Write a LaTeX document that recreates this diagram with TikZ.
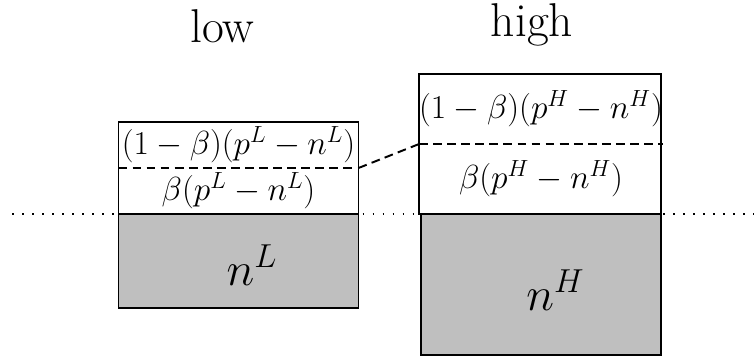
\RequirePackage{fix-cm}
\documentclass[tikz,border=0pt]{standalone}
\usepackage{amsmath,amssymb}
\usetikzlibrary{positioning}
\tikzset{
    share/.style={minimum width=4.8cm,inner sep=0pt,outer sep=0pt,font=\fontsize{19}{23}\selectfont},
    base/.style={draw,line width=1.1pt,fill=black!25,minimum width=4.8cm,inner sep=0pt,outer sep=0pt},
    cost/.style={font=\fontsize{27}{32}\selectfont,anchor=base,inner sep=0pt},
    level/.style={font=\fontsize{27}{32}\selectfont,anchor=base},
    frame/.style={line width=1.1pt},
    split/.style={line width=1.1pt,dash pattern=on 5pt off 3pt},
    ground/.style={line width=0.9pt,dash pattern=on 0.9pt off 4.8pt}
}

\begin{document}
\begin{tikzpicture}
    \useasboundingbox (0,0) rectangle (15.08,7.16);
    \coordinate (g0) at (0.24,2.88);
    \coordinate (g1) at (15.08,2.88);
    \draw[ground] (g0)--(g1);

    \node[level] (low) at (4.45,6.3) {low};
    \node[level] (high) at (10.64,6.42) {high};

    % low type
    \node[share,minimum height=0.92cm,anchor=south] (Lbeta) at (4.77,2.88) {$\beta(p^L-n^L)$};
    \node[share,minimum height=0.92cm,above=0pt of Lbeta] (Lrest) {$(1-\beta)(p^L-n^L)$};
    \node[base,minimum height=1.88cm,below=0pt of Lbeta] (nL) {};
    \node[cost] (nLtext) at ([xshift=0.27cm,yshift=-0.48cm]nL.center) {$n^L$};
    \draw[frame] (Lrest.north west) rectangle (Lbeta.south east);
    \draw[split] (Lrest.south west)--(Lrest.south east);

    % high type
    \node[share,minimum height=1.4cm,anchor=south] (Hbeta) at (10.82,2.88) {$\beta(p^H-n^H)$};
    \node[share,minimum height=1.4cm,above=0pt of Hbeta] (Hrest) {$(1-\beta)(p^H-n^H)$};
    \node[base,minimum height=2.82cm,below=0pt of Hbeta] (nH) {};
    \node[cost] (nHtext) at ([xshift=0.29cm,yshift=-0.51cm]nH.center) {$n^H$};
    \draw[frame] (Hrest.north west) rectangle (Hbeta.south east);
    \draw[split] (Hrest.south west)--(Hrest.south east);

    \draw[split] (Lrest.south east)--(Hrest.south west);
\end{tikzpicture}
\end{document}
